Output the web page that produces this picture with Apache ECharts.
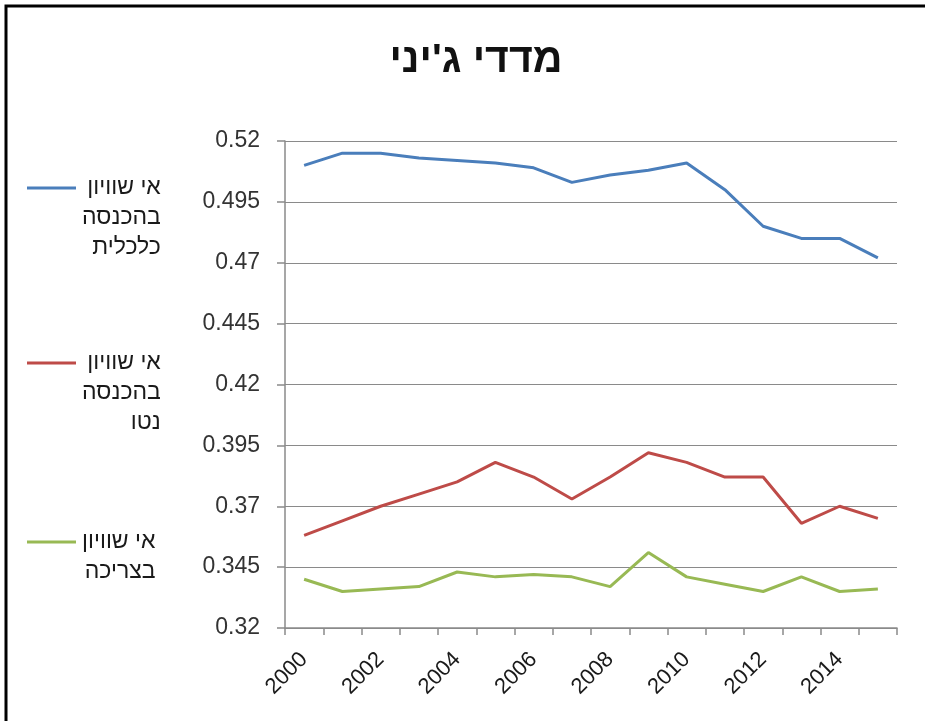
<!DOCTYPE html>
<html>
<head>
<meta charset="utf-8">
<script src="https://cdn.jsdelivr.net/npm/echarts@6/dist/echarts.min.js"></script>
<style>
html,body{margin:0;padding:0;background:#fff;}
#chart{width:925px;height:721px;}
</style>
</head>
<body>
<div id="chart"></div>
<script>
var years = ['2000','2001','2002','2003','2004','2005','2006','2007','2008','2009','2010','2011','2012','2013','2014','2015'];
var economicIncome = [0.510,0.515,0.515,0.513,0.512,0.511,0.509,0.503,0.506,0.508,0.511,0.500,0.485,0.480,0.480,0.472];
var netIncome = [0.358,0.364,0.370,0.375,0.380,0.388,0.382,0.373,0.382,0.392,0.388,0.382,0.382,0.363,0.370,0.365];
var consumption = [0.340,0.335,0.336,0.337,0.343,0.341,0.342,0.341,0.337,0.351,0.341,0.338,0.335,0.341,0.335,0.336];
var seriesNames = ['אי שוויון בהכנסה כלכלית','אי שוויון בהכנסה נטו','אי שוויון בצריכה'];
var legendLines = [['אי שוויון','בהכנסה','כלכלית'],['אי שוויון','בהכנסה','נטו'],['אי שוויון','בצריכה']];
var titleText = "מדדי ג'יני";
var colors = ['#4A7EBB','#BE4B48','#98B954'];

var FONT = "'Liberation Sans','DejaVu Sans',sans-serif";
var LH = 30;
var LFS = 23;

function makeLegend(i, top) {
  var n = legendLines[i].length;
  return {
    data: [seriesNames[i]],
    left: 27,
    top: top,
    orient: 'vertical',
    padding: 0,
    icon: 'rect',
    itemWidth: 49,
    itemHeight: 3,
    itemGap: 0,
    selectedMode: false,
    formatter: function () {
      return legendLines[i].map(function (s) { return '{r|' + s + '}'; }).join('\n');
    },
    textStyle: {
      fontFamily: FONT,
      fontSize: LFS,
      color: '#1a1a1a',
      lineHeight: LH,
      padding: [(n - 1) * LH, 0, 0, 1],
      rich: { r: { align: 'right', fontFamily: FONT, fontSize: LFS, lineHeight: LH, color: '#1a1a1a' } }
    }
  };
}

var chart = echarts.init(document.getElementById('chart'), null, {renderer: 'canvas'});
chart.setOption({
  backgroundColor: '#fff',
  animation: false,
  title: {
    text: titleText,
    left: 471,
    textAlign: 'center',
    top: 35,
    textStyle: { fontFamily: FONT, fontSize: 41, fontWeight: 'bold', color: '#111' }
  },
  graphic: [{
    type: 'rect',
    shape: { x: 6, y: 6, width: 1100, height: 1100 },
    style: { fill: 'none', stroke: '#000', lineWidth: 3 },
    silent: true
  }],
  legend: [
    makeLegend(0, 188 - 2.5 * LH),
    makeLegend(1, 363 - 2.5 * LH),
    makeLegend(2, 542 - 1.5 * LH)
  ],
  grid: { left: 285, right: 28, top: 141, bottom: 93, containLabel: false },
  xAxis: {
    type: 'category',
    data: years,
    boundaryGap: true,
    axisLine: { lineStyle: { color: '#8a8a8a', width: 1.5 } },
    axisTick: { show: true, length: 7, interval: 0, lineStyle: { color: '#8a8a8a', width: 1.5 } },
    axisLabel: { interval: 1, rotate: 45, margin: 28, fontFamily: FONT, fontSize: 22, color: '#1a1a1a' },
    splitLine: { show: false }
  },
  yAxis: {
    type: 'value',
    min: 0.32,
    max: 0.52,
    interval: 0.025,
    axisLine: { show: true, lineStyle: { color: '#8a8a8a', width: 1.5 } },
    axisTick: { show: true, length: 8, lineStyle: { color: '#8a8a8a', width: 1.5 } },
    axisLabel: { margin: 25, fontFamily: FONT, fontSize: 23, color: '#333',
      formatter: function (v) { return String(parseFloat(v.toFixed(3))); } },
    splitLine: { show: true, lineStyle: { color: '#8a8a8a', width: 1.2 } }
  },
  series: [
    { name: seriesNames[0], type: 'line', data: economicIncome, symbol: 'none', lineStyle: { width: 3, color: colors[0] }, itemStyle: { color: colors[0] } },
    { name: seriesNames[1], type: 'line', data: netIncome, symbol: 'none', lineStyle: { width: 3, color: colors[1] }, itemStyle: { color: colors[1] } },
    { name: seriesNames[2], type: 'line', data: consumption, symbol: 'none', lineStyle: { width: 3, color: colors[2] }, itemStyle: { color: colors[2] } }
  ]
});
</script>
</body>
</html>
